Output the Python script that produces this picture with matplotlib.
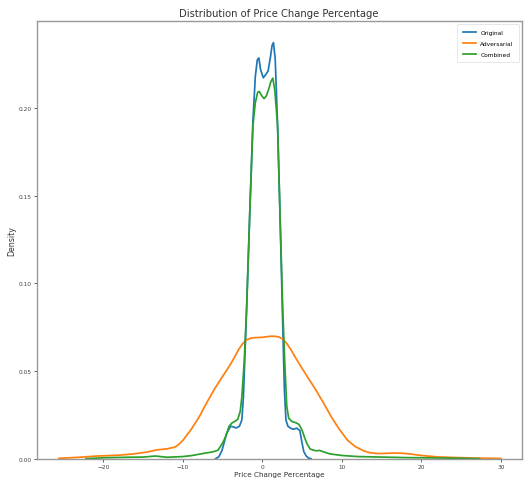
import matplotlib
matplotlib.use("Agg")
import matplotlib.pyplot as plt

# Kernel density curves of daily price change (%), sampled along the x axis
original_x = [-5.9, -5.5, -5.1, -4.5, -4.0, -3.6, -3.3, -2.9, -2.6, -2.4, -2.2, -2.0,
              -1.6, -1.2, -0.9, -0.65, -0.45, -0.25, 0.1, 0.4, 0.7, 1.0, 1.2, 1.38,
              1.6, 1.9, 2.2, 2.5, 2.75, 2.95, 3.2, 3.6, 3.9, 4.3, 4.7, 4.95, 5.2,
              5.5, 5.8, 6.1]
original_y = [0.0, 0.001, 0.0046, 0.0145, 0.0185, 0.018, 0.0175, 0.0185, 0.022, 0.035,
              0.06, 0.085, 0.14, 0.193, 0.218, 0.2275, 0.2285, 0.222, 0.2172, 0.219,
              0.221, 0.229, 0.2355, 0.2373, 0.228, 0.19, 0.14, 0.085, 0.04, 0.022,
              0.0185, 0.0172, 0.0168, 0.0174, 0.016, 0.0095, 0.004, 0.0015, 0.0003, 0.0]

adversarial_x = [-25.6, -23.0, -20.8, -18.0, -16.2, -14.5, -13.3, -12.0, -11.0, -10.5,
                 -10.0, -9.0, -8.0, -7.0, -6.0, -5.0, -4.0, -3.5, -3.0, -2.5, -2.0,
                 -1.5, -1.0, 0.0, 1.0, 1.5, 2.0, 2.5, 3.0, 3.5, 4.0, 4.5, 5.6, 6.6,
                 7.65, 8.7, 9.7, 10.7, 11.7, 12.7, 13.5, 14.5, 15.5, 16.5, 17.5, 18.5,
                 20.0, 22.0, 24.5, 27.0, 30.0]
adversarial_y = [0.0002, 0.0008, 0.0015, 0.002, 0.0027, 0.0038, 0.005, 0.0056, 0.0066,
                 0.0082, 0.0105, 0.0165, 0.0235, 0.032, 0.04, 0.047, 0.054, 0.058,
                 0.0622, 0.0656, 0.0677, 0.0687, 0.069, 0.0692, 0.0698, 0.0698, 0.0695,
                 0.0683, 0.066, 0.0627, 0.0588, 0.055, 0.047, 0.04, 0.032, 0.0235,
                 0.0165, 0.0105, 0.0068, 0.0045, 0.0034, 0.0029, 0.003, 0.0032, 0.0031,
                 0.0027, 0.0018, 0.001, 0.0006, 0.0003, 0.0001]

combined_x = [-22.2, -20.0, -17.0, -15.0, -13.5, -12.0, -10.0, -9.0, -8.0, -7.0, -6.3,
              -5.6, -5.0, -4.6, -4.2, -3.8, -3.4, -3.1, -2.8, -2.6, -2.3, -2.0, -1.6,
              -1.2, -0.9, -0.6, -0.4, -0.1, 0.2, 0.5, 0.8, 1.05, 1.3, 1.55, 1.9, 2.2,
              2.55, 2.8, 3.05, 3.3, 3.7, 4.2, 4.6, 5.0, 5.3, 5.6, 6.0, 6.4, 6.8, 7.2,
              7.6, 8.5, 10.0, 12.0, 15.0, 18.0, 22.0, 25.0, 27.3]
combined_y = [0.0, 0.0005, 0.0008, 0.0009, 0.0015, 0.0008, 0.0012, 0.0017, 0.0025,
              0.0033, 0.0038, 0.0048, 0.009, 0.013, 0.0185, 0.0205, 0.0215, 0.0225,
              0.027, 0.035, 0.055, 0.085, 0.14, 0.19, 0.203, 0.209, 0.2094, 0.207,
              0.2053, 0.207, 0.211, 0.215, 0.217, 0.21, 0.19, 0.14, 0.085, 0.055, 0.03,
              0.023, 0.0212, 0.0205, 0.0195, 0.016, 0.012, 0.0085, 0.0055, 0.0048,
              0.0045, 0.0047, 0.004, 0.0027, 0.0018, 0.0012, 0.0009, 0.0006, 0.0004,
              0.0002, 0.0]

series_labels = ["Original", "Adversarial", "Combined"]
x_ticks = [-20, -10, 0, 10, 20, 30]
y_ticks = [0.00, 0.05, 0.10, 0.15, 0.20]

fig = plt.figure(figsize=(5.28, 4.89), dpi=100)
ax = fig.add_axes([0.0695, 0.060, 0.9185, 0.894])

ax.plot(original_x, original_y, color="#1f77b4", lw=1.25, label=series_labels[0])
ax.plot(adversarial_x, adversarial_y, color="#ff7f0e", lw=1.25, label=series_labels[1])
ax.plot(combined_x, combined_y, color="#2ca02c", lw=1.25, label=series_labels[2])

ax.set_xlim(-28.4, 32.6)
ax.set_ylim(0, 0.2493)
ax.set_xticks(x_ticks)
ax.set_xticklabels([f"{t}" if t >= 0 else f"\u2212{-t}" for t in x_ticks])
ax.set_yticks(y_ticks)
ax.set_yticklabels([f"{t:.2f}" for t in y_ticks])

ax.tick_params(labelsize=4.2, colors="#444444", length=2, width=0.6, pad=1.5)
for sp in ax.spines.values():
    sp.set_color("#999999")
    sp.set_linewidth(1.0)

ax.set_title("Distribution of Price Change Percentage", fontsize=7.2,
             color="#333333", pad=4)
ax.set_xlabel("Price Change Percentage", fontsize=5.2, color="#333333", labelpad=2)
ax.set_ylabel("Density", fontsize=5.6, color="#333333", labelpad=2)

leg = ax.legend(loc="upper right", fontsize=4.2, handlelength=2.2,
                borderpad=0.9, labelspacing=1.05, framealpha=1)
leg.get_frame().set_linewidth(0.5)
leg.get_frame().set_edgecolor("#dddddd")

fig.savefig("out.png", dpi=100)
